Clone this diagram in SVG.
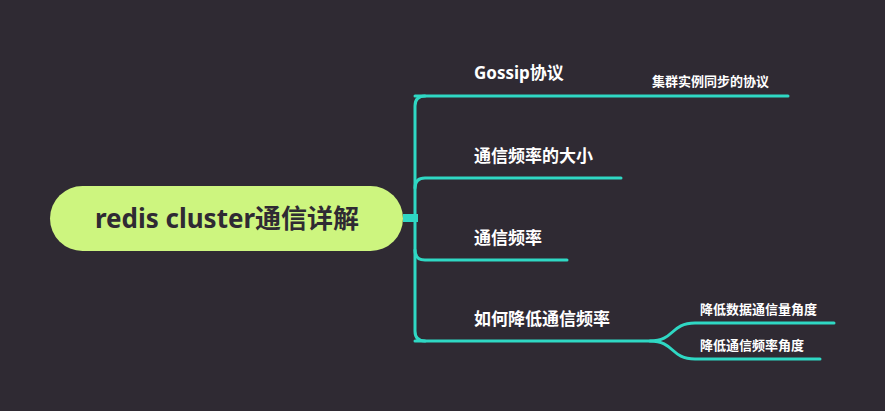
<svg xmlns="http://www.w3.org/2000/svg" width="885" height="411" viewBox="0 0 885 411">
<style>
.c{fill:none;stroke:#2fd8c4;stroke-width:3;stroke-linecap:round}
.t{font-family:"Noto Sans","Noto Sans CJK SC",sans-serif;font-weight:bold;fill:#ffffff}
.m{font-size:17px}.s{font-size:13px}
</style>
<rect width="885" height="411" fill="#2f2a33"/>
<g id="connectors">
<path d="M403 218 H418" stroke="#2fd8c4" stroke-width="8" fill="none"/>
<path class="c" stroke-width="4" d="M425 96 Q415 96 415 106 V331 Q415 341 425 341"/>
<path class="c" d="M415 96 H788"/>
<path class="c" d="M415 188 Q415 178 425 178 H621"/>
<path class="c" d="M415 250 Q415 260 425 260 H567"/>
<path class="c" d="M415 341 H650 C675 341 670 323 695 323 H834"/>
<path class="c" d="M650 341 C675 341 670 359 695 359 H820"/>
</g>
<g id="root">
<rect x="50" y="186" width="353" height="65" rx="32.5" fill="#cdf57f"/>
<text x="227" y="228" text-anchor="middle" font-family="Noto Sans,Noto Sans CJK SC,sans-serif" font-weight="bold" font-size="26" fill="#2f2a33">redis cluster通信详解</text>
</g>
<g id="n1"><text class="t m" x="474" y="79">Gossip协议</text></g>
<g id="n1a"><text class="t s" x="652" y="86">集群实例同步的协议</text></g>
<g id="n2"><text class="t m" x="474" y="162">通信频率的大小</text></g>
<g id="n3"><text class="t m" x="474" y="244">通信频率</text></g>
<g id="n4"><text class="t m" x="474" y="325">如何降低通信频率</text></g>
<g id="n4a"><text class="t s" x="700" y="314">降低数据通信量角度</text></g>
<g id="n4b"><text class="t s" x="700" y="350">降低通信频率角度</text></g>
</svg>
